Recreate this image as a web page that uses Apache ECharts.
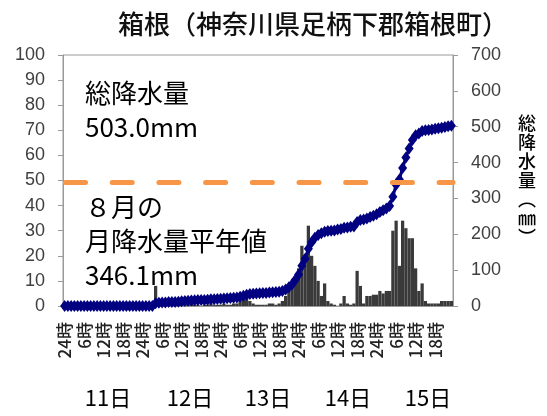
<!DOCTYPE html>
<html>
<head>
<meta charset="utf-8">
<script src="https://cdn.jsdelivr.net/npm/echarts@6/dist/echarts.min.js"></script>
<style>
html,body{margin:0;padding:0;background:#fff;}
#chart{width:547px;height:416px;}
</style>
</head>
<body>
<div id="chart"></div>
<script>
// ---- data ----
const titleText = '箱根（神奈川県足柄下郡箱根町）';
const days = ['11日', '12日', '13日', '14日', '15日'];
const hourTickLabels = ['24時', '1時', '2時', '3時', '4時', '5時', '6時', '7時', '8時', '9時', '10時', '11時',
  '12時', '13時', '14時', '15時', '16時', '17時', '18時', '19時', '20時', '21時', '22時', '23時'];
// hourly precipitation (mm), left axis
const hourlyRain = [
  0,0,0,0,0,0,0,0,0,0,0,0,0,0,0,0,0,0,0,0,0,0,0,0,
  0,0,0,0,8,1,0.5,0.5,1,0.5,0,0.5,1,1,0.5,1,0.5,0.5,0,0.5,0.5,1,0.5,0.5,
  0.5,1,0.5,0.5,1,1,2,2.5,3,2,1,0.5,0.5,0.5,0.5,1,1,0.5,1,2,4,6,9,12,
  15,24,20,32,20,16,10,4,9,2,1,0.5,0,1,4,1,0.5,1,14,8,1,4,4,4.5,
  4.5,6,5,6,6,30,34,16,34,31,27,27,15,6,9,2,1,1,1,1,2,2,2,2
];
// cumulative precipitation (mm), right axis
const cumulativeRain = [
  0,0,0,0,0,0,0,0,0,0,0,0,0,0,0,0,0,0,0,0,0,0,0,0,
  0,0,0,0,8,9,9.5,10,11,11.5,11.5,12,13,14,14.5,15.5,16,16.5,16.5,17,17.5,18.5,19,19.5,
  20,21,21.5,22,23,24,26,28.5,31.5,33.5,34.5,35,35.5,36,36.5,37.5,38.5,39,40,42,46,52,61,73,
  88,112,132,160,178,190,198,203,207,209,210,210.5,213,215,218,219,221,222,234,240,241,244,248,252,
  256,262,267,272,279,305,338,353,385,414,439,463,476,481,488,490,491,492.5,494,495.5,497,499,501,503
];
const totalRain = 503.0;
const normalAugust = 346.1;
const leftTicks = [0, 100, 10];
const rightTicks = [0, 700, 100];

// ---- layout / style ----
const dayLabelX = [108, 190, 268, 348, 428];
const jpFont = '"Noto Sans CJK JP", sans-serif';
const numFont = '"Liberation Sans", Arial, sans-serif';
const axisGray = '#9A9A9A';

const categories = [];
days.forEach(d => hourTickLabels.forEach(h => categories.push(d + h)));

const chart = echarts.init(document.getElementById('chart'), null, {renderer: 'canvas'});

const graphics = [
  {type: 'text', x: 313, y: 24, style: {text: titleText, fontSize: 26, fontWeight: 500, fontFamily: jpFont, fill: '#111',
    textAlign: 'center', textVerticalAlign: 'middle'}},
  {type: 'text', x: 85, y: 76, style: {text: '総降水量\n' + totalRain.toFixed(1) + 'mm', fontSize: 26, lineHeight: 34,
    fontFamily: jpFont, fill: '#000', textAlign: 'left', textVerticalAlign: 'top'}},
  {type: 'text', x: 85, y: 190, style: {text: '８月の\n月降水量平年値\n' + normalAugust.toFixed(1) + 'mm', fontSize: 26, lineHeight: 34,
    fontFamily: jpFont, fill: '#000', textAlign: 'left', textVerticalAlign: 'top'}},
  {type: 'text', x: 527, y: 114, style: {text: '総\n降\n水\n量\n︵\n㎜\n︶', fontSize: 18, lineHeight: 19, fontWeight: 500,
    fontFamily: jpFont, fill: '#000', textAlign: 'center', textVerticalAlign: 'top'}},
  {type: 'text', x: -9, y: 84, style: {text: '時\n間\n降\n水\n量\n︵\n㎜\n︶', fontSize: 18, lineHeight: 19,
    fontFamily: jpFont, fill: '#000', textAlign: 'center', textVerticalAlign: 'top'}}
];
days.forEach((d, i) => {
  graphics.push({type: 'text', x: dayLabelX[i], y: 398, style: {text: d, fontSize: 22, fontFamily: jpFont,
    fill: '#000', textAlign: 'center', textVerticalAlign: 'middle'}});
});

const yAxisCommon = {
  type: 'value',
  splitLine: {show: false},
  axisLine: {show: true, lineStyle: {color: axisGray, width: 1}},
  axisTick: {show: true, length: 5, lineStyle: {color: axisGray}},
  axisLabel: {margin: 18, fontSize: 18, color: '#404040', fontFamily: numFont}
};

chart.setOption({
  animation: false,
  backgroundColor: '#fff',
  grid: {left: 63, right: 94, top: 55, bottom: 110, show: true, borderColor: axisGray, borderWidth: 1},
  xAxis: {
    type: 'category',
    data: categories,
    boundaryGap: true,
    axisLine: {lineStyle: {color: axisGray}},
    axisTick: {interval: 0, length: 9, lineStyle: {color: '#A8A8A8', width: 1.5}},
    axisLabel: {
      interval: 5, rotate: 90, margin: 16, fontSize: 17, fontWeight: 500, color: '#222', fontFamily: jpFont,
      formatter: v => v.slice(v.indexOf('日') + 1)
    }
  },
  yAxis: [
    Object.assign({}, yAxisCommon, {min: leftTicks[0], max: leftTicks[1], interval: leftTicks[2], position: 'left'}),
    Object.assign({}, yAxisCommon, {min: rightTicks[0], max: rightTicks[1], interval: rightTicks[2], position: 'right'})
  ],
  series: [
    {
      type: 'bar', yAxisIndex: 0, data: hourlyRain, barCategoryGap: '0%',
      itemStyle: {color: '#3A3A3A'}, z: 2
    },
    {
      type: 'line', yAxisIndex: 1, data: cumulativeRain,
      symbol: 'diamond', symbolSize: [9, 12], showAllSymbol: true,
      lineStyle: {color: '#000080', width: 3}, itemStyle: {color: '#000080'}, z: 3
    },
    {
      type: 'line', yAxisIndex: 1, data: [], z: 4,
      markLine: {
        silent: true, symbol: ['none', 'none'], label: {show: false},
        lineStyle: {color: '#F79646', width: 5, type: [20, 26.7], cap: 'round', dashOffset: -2.5},
        data: [{yAxis: normalAugust}]
      }
    }
  ],
  graphic: graphics
});
</script>
</body>
</html>
